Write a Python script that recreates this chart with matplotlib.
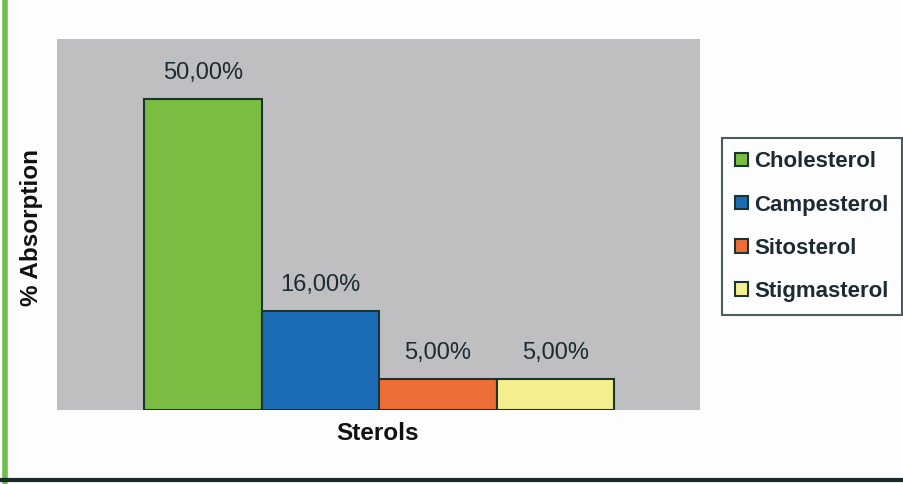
import matplotlib.pyplot as plt
from matplotlib.lines import Line2D

sterols = ['Cholesterol', 'Campesterol', 'Sitosterol', 'Stigmasterol']
absorption = [50, 16, 5, 5]
labels = ['50,00%', '16,00%', '5,00%', '5,00%']
colors = ['#7bbd42', '#1b6cb5', '#ef6d36', '#f6ef8f']

plt.rcParams['font.family'] = ['Liberation Sans', 'DejaVu Sans']
text_col = '#1c2a33'
edge_col = '#1d3434'

fig = plt.figure(figsize=(9.04, 4.84), dpi=100)
fig.patch.set_facecolor('#fdfdfe')
ax = fig.add_axes([57/904, 74/484, 643/904, 371/484])
ax.set_facecolor('#bfbfc1')

xs = list(range(len(sterols)))
bars = ax.bar(xs, absorption, width=1.0, align='edge', color=colors,
              edgecolor=edge_col, linewidth=1.5, label=sterols)
for b, lab in zip(bars, labels):
    ax.text(b.get_x() + b.get_width() / 2, b.get_height() + 2.4, lab,
            ha='center', va='bottom', fontsize=17, color=text_col)

ax.set_xlim(-0.74, 4.73)
ax.set_ylim(0, 59.7)
ax.set_xticks([])
ax.set_yticks([])
for s in ax.spines.values():
    s.set_visible(False)

fig.text(378/904, 1 - 433/484, 'Sterols', ha='center', va='center',
         fontsize=17.5, fontweight='bold', color='#111111')
fig.text(32/904, 1 - 228/484, '% Absorption', ha='center', va='center',
         rotation=90, fontsize=17.5, fontweight='bold', color='#111111')

leg = fig.legend(handles=bars, labels=sterols, loc='upper left',
                 bbox_to_anchor=(722/904, 1 - 138/484), frameon=True,
                 prop={'size': 16, 'weight': 'bold'},
                 handlelength=0.55, handleheight=0.55,
                 handletextpad=0.3, labelspacing=1.0, borderpad=0.6,
                 borderaxespad=0, fancybox=False)
leg.get_frame().set_edgecolor('#1d3434')
leg.get_frame().set_linewidth(1.5)
leg.get_frame().set_facecolor('#fdfdfe')
for t in leg.get_texts():
    t.set_color(text_col)

# left green rule and bottom dark rule of the figure frame
fig.add_artist(Line2D([5/904, 5/904], [0, 1], color='#6cc04a', lw=4,
                      transform=fig.transFigure))
fig.add_artist(Line2D([0, 1], [4/484, 4/484], color='#1a2a2a', lw=3,
                      transform=fig.transFigure))

fig.savefig('out.png', dpi=100)
